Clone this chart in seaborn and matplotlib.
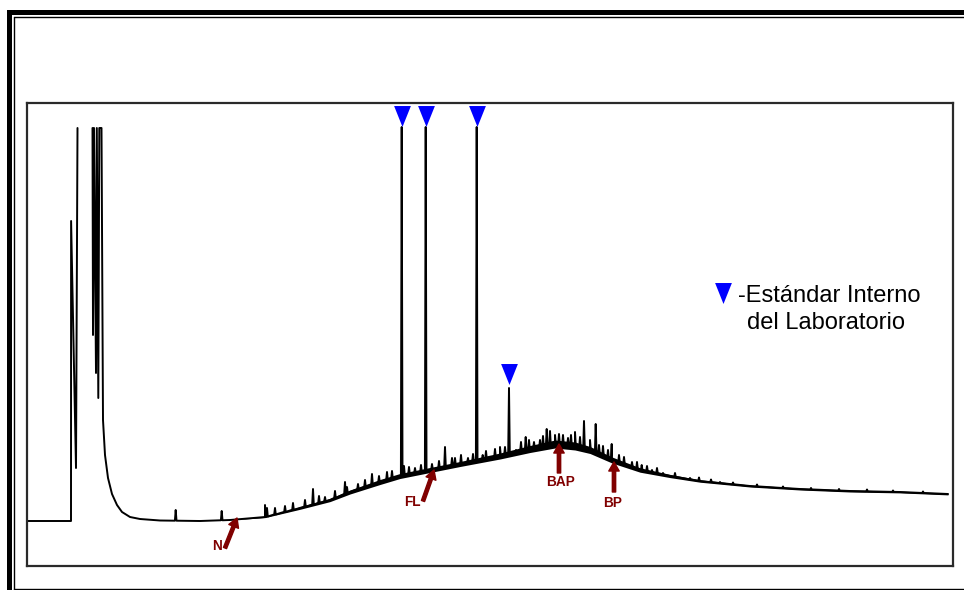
import numpy as np
import pandas as pd
import matplotlib
matplotlib.use("Agg")
import matplotlib.pyplot as plt
import seaborn as sns
from matplotlib.patches import Rectangle
from matplotlib.lines import Line2D

# ---------------- data (retention time in min, response in arbitrary units) ----
solvent_t = [0.05, 2.20, 2.205, 2.45, 2.525]
solvent_h = [45, 45, 345, 98, 438]

cluster_t = [3.275, 3.30, 3.35, 3.45, 3.49, 3.565, 3.615, 3.725]
cluster_h = [438, 231, 438, 193, 438, 168, 438, 438]

base_t = [3.80, 3.90, 4.05, 4.25, 4.50, 4.75, 5.15, 5.65, 6.65, 8.65, 10.15,
          11.90, 13.65, 15.15, 16.15, 17.65, 18.65, 20.15, 21.65, 23.65, 25.15,
          26.40, 27.40, 28.15, 29.25, 30.65, 32.15, 33.65, 36.15, 38.65, 41.15,
          43.65, 46.05]
base_h = [146, 111, 88, 72, 61, 54, 49, 47, 45.5, 45, 46,
          49, 58, 66, 74, 84, 90, 96, 102, 110, 117,
          122, 120, 116, 106, 96, 90, 85, 80, 77, 75,
          74, 72]
noise_w = [0, 0, 0, 0, 0, 0, 0, 0, 0, 0, 0,
           0.6, 1.3, 1.6, 2.0, 2.5, 2.5, 2.5, 2.5, 3.0, 3.5,
           4.0, 4.0, 3.5, 3.0, 2.2, 1.6, 1.2, 1.0, 1.0, 1.0,
           0.9, 0.9]

# resolved peaks (apex)
peak_t = [7.435, 9.735, 11.90, 12.00, 14.30, 14.90, 15.90, 16.55, 17.25, 18.25,
          18.735, 18.85, 19.40, 19.935, 20.25, 20.90, 21.25, 21.70, 22.05, 22.485,
          22.785, 23.15, 23.65, 24.10, 24.45, 24.935, 25.35, 25.65, 25.985, 26.15,
          26.40, 26.80, 27.05, 27.40, 27.85, 28.15, 28.435, 28.80, 29.235, 29.85,
          30.25, 30.735, 31.25, 31.80, 33.15, 34.65]
peak_h = [56, 55, 61, 58, 77, 69, 84, 82, 92, 95,
          439, 100, 98, 439, 102, 119, 108, 111, 108, 439,
          111, 109, 119, 178, 116, 129, 124, 126, 137, 135,
          131, 131, 128, 134, 145, 126, 142, 120, 122, 109,
          104, 101, 96, 93, 88, 84]

# minor unresolved peaks on the hump
minor_t = [12.4, 12.9, 13.3, 13.9, 14.6, 15.4, 16.0, 16.9, 17.6, 18.0,
           19.1, 19.7, 20.6, 21.4, 22.3, 22.95, 23.4, 23.9, 24.7, 25.1,
           25.8, 26.6, 27.2, 27.65, 28.6, 29.05, 29.6, 30.5, 31.0, 31.5,
           32.4, 33.6, 34.2, 35.3, 36.5, 37.8, 39.2, 40.6, 42.0, 43.3, 44.8]
minor_h = [58, 60, 63, 66, 70, 75, 79, 86, 90, 94,
           99, 101, 105, 108, 112, 115, 117, 119, 124, 126,
           130, 132, 131, 129, 121, 116, 111, 104, 100, 98,
           93, 88.5, 86.5, 83.5, 81.5, 79.5, 78, 77, 76.5, 75.5, 74.5]

# internal standards (marker positions) and legend marker
std_t = [18.735, 19.935, 22.485, 24.085]
std_h = [449.7, 449.7, 449.7, 192.5]
legend_marker = (34.815, 273)

# labelled compounds: label, label pos, arrow tail, arrow head
labels = ["N", "FL", "BAP", "BP"]
label_pos = [(9.50, 20), (19.25, 64), (26.65, 84), (29.30, 63)]
arrow_tail = [(9.90, 18), (19.80, 65), (26.60, 93), (29.35, 74)]
arrow_head = [(10.50, 48), (20.35, 96), (26.60, 122), (29.35, 104)]

# ---------------- build trace ----------------
dt = 0.04
all_pk_t = list(peak_t) + list(minor_t)
all_pk_h = list(peak_h) + list(minor_h)
foot = np.interp(all_pk_t, base_t, base_h)
pts_t = list(cluster_t) + list(base_t)
pts_h = list(cluster_h) + list(base_h)
for t, h, f in zip(all_pk_t, all_pk_h, foot):
    pts_t += [t - dt, t, t + dt]
    pts_h += [f, h, f]
order = np.argsort(np.array(pts_t), kind="mergesort")
trace = pd.DataFrame({"t": np.array(pts_t)[order], "h": np.array(pts_h)[order]})
solvent = pd.DataFrame({"t": solvent_t, "h": solvent_h})

# ---------------- figure ----------------
sns.set_style("white")
plt.rcParams["font.family"] = ["Liberation Sans", "DejaVu Sans"]

W, H = 964, 590
fig = plt.figure(figsize=(W / 100, H / 100), dpi=100)
ax = fig.add_axes([27 / W, 1 - 566 / H, 926 / W, 463 / H])

bt = np.array(base_t)
bh = np.array(base_h)
nw = np.array(noise_w)
ax.fill_between(bt, bh - nw, bh + nw, color="black", lw=0)

sns.lineplot(data=solvent, x="t", y="h", sort=False, estimator=None,
             color="black", lw=1.4, ax=ax)
sns.lineplot(data=trace, x="t", y="h", sort=False, estimator=None,
             color="black", lw=1.4, ax=ax)

tri = [(-0.8, 1), (0.8, 1), (0, -1)]
sns.scatterplot(x=std_t, y=std_h, marker=tri, s=228, color="#0000ff",
                linewidth=0, ax=ax, zorder=5)
ax.scatter([legend_marker[0]], [legend_marker[1]], marker=tri, s=228,
           color="#0000ff", linewidth=0, zorder=5, clip_on=False)

dark_red = "#800000"
for lab, lp, tail, head in zip(labels, label_pos, arrow_tail, arrow_head):
    ax.annotate("", xy=head, xytext=tail,
                arrowprops=dict(facecolor=dark_red, edgecolor=dark_red,
                                width=2.4, headwidth=7.5, headlength=6.5,
                                shrink=0))
    ax.text(lp[0], lp[1], lab, color=dark_red, fontsize=9.8,
            fontweight="bold", ha="center", va="center")

fig.text(738 / W, 1 - 301.7 / H, "-Estándar Interno", fontsize=17,
         ha="left", va="baseline", color="black")
fig.text(746.7 / W, 1 - 329 / H, "del Laboratorio", fontsize=17,
         ha="left", va="baseline", color="black")

ax.set_xlim(0, 46.3)
ax.set_ylim(0, 463)
ax.set_xticks([])
ax.set_yticks([])
ax.set_xlabel("")
ax.set_ylabel("")
for sp in ax.spines.values():
    sp.set_visible(True)
    sp.set_color("#2a2a2a")
    sp.set_linewidth(1.6)

# outer double frame
fig.add_artist(Rectangle((7 / W, 1 - 14.5 / H), (W - 7) / W, 4.5 / H,
                         transform=fig.transFigure, color="black", lw=0))
fig.add_artist(Rectangle((7 / W, 0), 4.5 / W, 1 - 10 / H,
                         transform=fig.transFigure, color="black", lw=0))
fig.add_artist(Line2D([13.5 / W, 1], [1 - 16.5 / H] * 2, color="black",
                      lw=1.0, transform=fig.transFigure))
fig.add_artist(Line2D([13.5 / W] * 2, [0, 1 - 16.5 / H], color="black",
                      lw=1.0, transform=fig.transFigure))
fig.add_artist(Line2D([13.5 / W, 1], [1.2 / H] * 2, color="black",
                      lw=1.0, transform=fig.transFigure))

fig.savefig("out.png", dpi=100)
